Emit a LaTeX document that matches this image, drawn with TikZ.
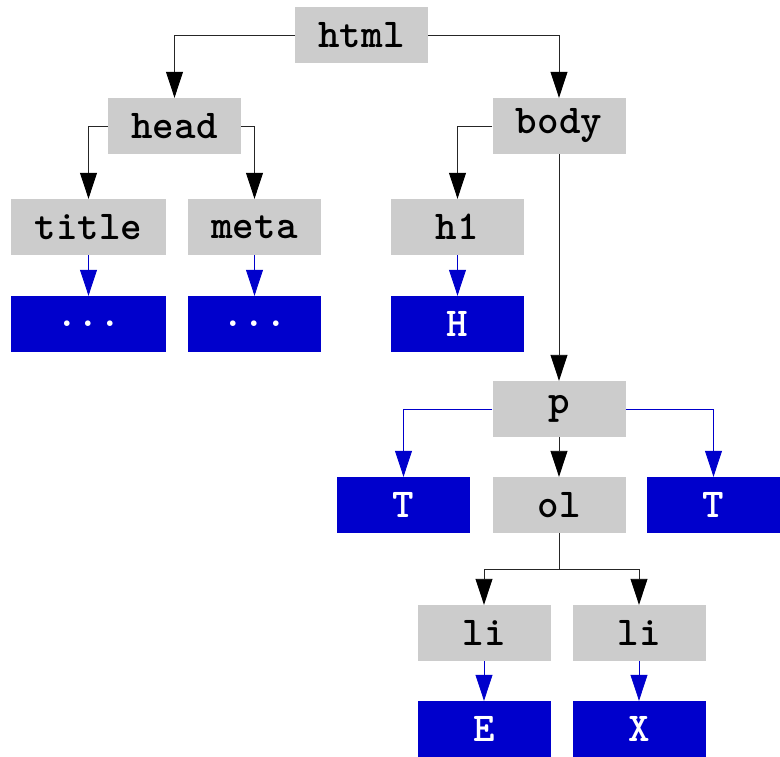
\documentclass[tikz,border=0pt]{standalone}
\usepackage{fontspec}
\usetikzlibrary{arrows.meta}
\definecolor{boxgray}{HTML}{CCCCCC}
\definecolor{txtblue}{HTML}{0000CC}
\begin{document}
\begin{tikzpicture}[x=1pt,y=-1pt,
  elem/.style={fill=boxgray, minimum width=133pt, minimum height=56pt, inner sep=0pt,
    font=\fontsize{41}{44}\selectfont\ttfamily\bfseries, text=black},
  txt/.style={elem, fill=txtblue, text=white},
  wide/.style={minimum width=155pt},
  conn/.style={draw=black!85, line width=0.9pt, -{Triangle[length=26pt,width=17pt,color=black]}},
  tconn/.style={draw=txtblue, line width=0.8pt, -{Triangle[length=26pt,width=17pt]}}]
\useasboundingbox (0,0) rectangle (780,757);
\node[elem] (html) at (361.5,35) {html};
\node[elem] (head) at (174.5,126) {head};
\node[elem] (body) at (559,126) {body};
\node[elem,wide] (title) at (88.5,227) {title};
\node[elem] (meta) at (254.5,227) {meta};
\node[elem] (h1) at (457.5,227) {h1};
\node[txt,wide] (d1) at (88.5,324) {...};
\node[txt] (d2) at (254.5,324) {...};
\node[txt] (H) at (457.5,324) {H};
\node[elem] (p) at (559,409) {p};
\node[txt] (T1) at (403.5,505) {T};
\node[elem] (ol) at (559,505) {ol};
\node[txt] (T2) at (713.5,505) {T};
\node[elem] (li1) at (484,633) {li};
\node[elem] (li2) at (639,633) {li};
\node[txt] (E) at (484,729) {E};
\node[txt] (X) at (639,729) {X};
\coordinate (split) at (559,569);
\draw[conn] (html.west) -| (head.north);
\draw[conn] (html.east) -| (body.north);
\draw[conn] (head.west) -| (title.north);
\draw[conn] (head.east) -| (meta.north);
\draw[conn] (body.west) -| (h1.north);
\draw[conn] (body.south) -- (p.north);
\draw[tconn] (title.south) -- (d1.north);
\draw[tconn] (meta.south) -- (d2.north);
\draw[tconn] (h1.south) -- (H.north);
\draw[tconn] (p.west) -| (T1.north);
\draw[tconn] (p.east) -| (T2.north);
\draw[conn] (p.south) -- (ol.north);
\draw[draw=black!85, line width=0.9pt] (ol.south) -- (split);
\draw[conn] (split) -| (li1.north);
\draw[conn] (split) -| (li2.north);
\draw[tconn] (li1.south) -- (E.north);
\draw[tconn] (li2.south) -- (X.north);
\end{tikzpicture}
\end{document}
